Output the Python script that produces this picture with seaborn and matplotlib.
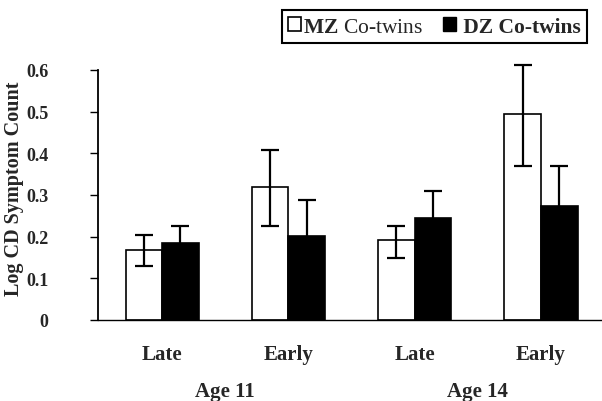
import matplotlib
matplotlib.use("Agg")
import matplotlib.pyplot as plt
from matplotlib.patches import Patch
import pandas as pd
import seaborn as sns

# bar groups (age x onset) and labels
groups = ["11-Late", "11-Early", "14-Late", "14-Early"]
tick_labels = ["Late", "Early", "Late", "Early"]
age_labels = ["Age 11", "Age 14"]
twins = ["MZ", "DZ"]

# values
mz_mean = [0.168, 0.318, 0.192, 0.494]
mz_low = [0.129, 0.226, 0.148, 0.370]
mz_high = [0.205, 0.408, 0.226, 0.612]
dz_mean = [0.184, 0.202, 0.244, 0.274]
dz_low = [0.142, 0.115, 0.178, 0.178]
dz_high = [0.226, 0.289, 0.310, 0.370]

sns.set_style("ticks")
plt.rcParams['font.family'] = ['Liberation Serif', 'DejaVu Serif']
plt.rcParams['mathtext.fontset'] = 'custom'
plt.rcParams['mathtext.rm'] = 'Liberation Serif'
plt.rcParams['mathtext.bf'] = 'Liberation Serif:bold'

df = pd.DataFrame({
    'group': groups * 2,
    'twin': ["MZ"] * 4 + ["DZ"] * 4,
    'value': mz_mean + dz_mean,
})

fig = plt.figure(figsize=(6.02, 4.02), dpi=100)
ax = fig.add_axes([0.163, 0.2015, 0.837, 0.6219])

sns.barplot(data=df, x='group', y='value', hue='twin', order=groups,
            hue_order=twins, palette={"MZ": "white", "DZ": "black"},
            saturation=1, edgecolor="black", linewidth=1.2, width=0.58,
            errorbar=None, legend=False, ax=ax)

# error bars placed at the bar centres seaborn computed
err = {"MZ": (mz_mean, mz_low, mz_high), "DZ": (dz_mean, dz_low, dz_high)}
for name, cont in zip(twins, ax.containers):
    mean, low, high = err[name]
    xs = [p.get_x() + p.get_width() / 2 for p in cont.patches]
    yerr = [[m - l for m, l in zip(mean, low)], [h - m for m, h in zip(mean, high)]]
    eb = ax.errorbar(xs, mean, yerr=yerr, fmt='none', ecolor='black',
                     elinewidth=1.6, capsize=6.5, capthick=1.6, zorder=3)
    for art in eb.lines[1] + eb.lines[2]:
        art.set_clip_on(False)

ax.set_xlim(-0.507, 3.483)
ax.set_ylim(0, 0.6)
ax.set_yticks([0, 0.1, 0.2, 0.3, 0.4, 0.5, 0.6])
ax.set_yticklabels(["0", "0.1", "0.2", "0.3", "0.4", "0.5", "0.6"],
                   fontsize=13, fontweight='bold')
ax.set_xticks(range(4))
ax.set_xticklabels(tick_labels, fontsize=15, fontweight='bold')
ax.tick_params(axis='x', length=0, pad=17)
ax.tick_params(axis='y', length=6, width=1, direction='out', pad=30, color='black')
ax.set_xlabel("")
ax.set_ylabel("Log CD Symptom Count", fontsize=14.5, fontweight='bold')
ax.yaxis.set_label_coords(-0.147, 0.53)

for s in ['top', 'right']:
    ax.spines[s].set_visible(False)
ax.spines['left'].set_linewidth(1.3)
ax.spines['bottom'].set_linewidth(1.0)
ax.spines['left'].set_color('black')
ax.spines['bottom'].set_color('black')

for i, lab in enumerate(age_labels):
    ax.text(2 * i + 0.5, -0.285, lab, transform=ax.get_xaxis_transform(),
            ha='center', va='center', fontsize=15, fontweight='bold')

handles = [Patch(facecolor='white', edgecolor='black', linewidth=1.2),
           Patch(facecolor='black', edgecolor='black')]
leg = fig.legend(handles, [r"$\mathbf{MZ}$ Co-twins", " DZ Co-twins"], ncol=2,
                 loc='upper right', bbox_to_anchor=(0.975, 0.972),
                 frameon=True, fancybox=False, edgecolor='black', framealpha=1,
                 prop={'family': 'Liberation Serif', 'size': 15.5},
                 handlelength=0.6, handleheight=0.6, handletextpad=0.1,
                 columnspacing=0.9, borderpad=0.3, borderaxespad=0)
leg.get_frame().set_linewidth(1.5)
leg.get_texts()[1].set_fontweight('bold')

fig.savefig("out.png", dpi=100)
